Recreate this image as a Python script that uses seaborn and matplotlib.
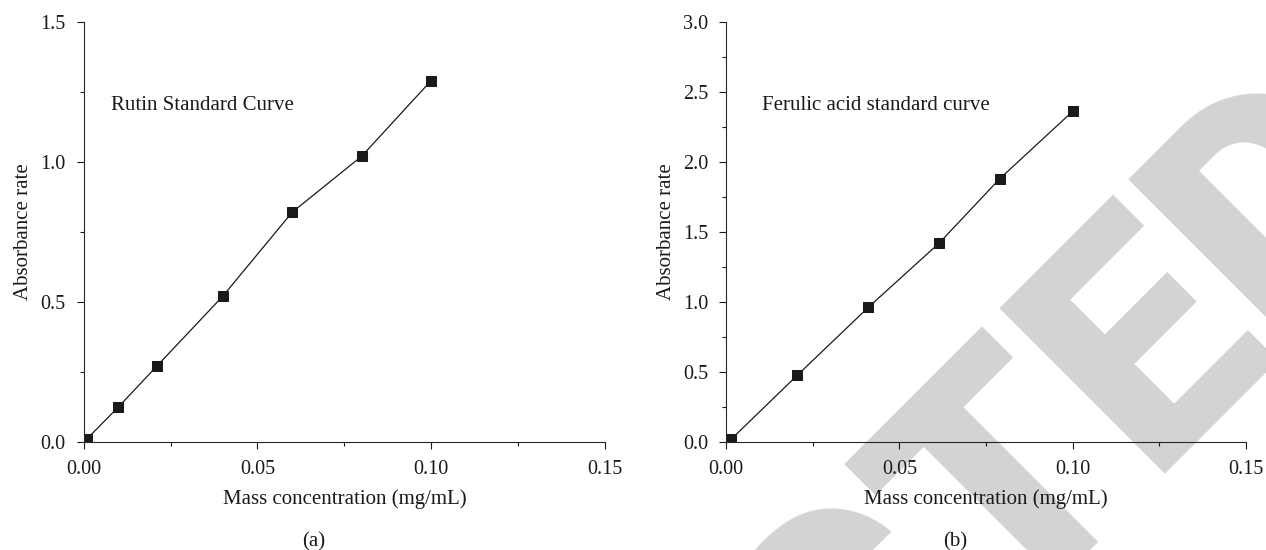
import matplotlib
matplotlib.use('Agg')
import matplotlib.pyplot as plt
import seaborn as sns
from matplotlib.ticker import MultipleLocator, FormatStrFormatter

# data
rutin_conc = [0.001, 0.010, 0.021, 0.040, 0.060, 0.080, 0.100]
rutin_abs = [0.012, 0.125, 0.27, 0.52, 0.82, 1.02, 1.29]

ferulic_conc = [0.0015, 0.0205, 0.041, 0.0615, 0.079, 0.100]
ferulic_abs = [0.02, 0.475, 0.96, 1.42, 1.88, 2.36]

x_ticks = [0.00, 0.05, 0.10, 0.15]
x_ticklabels = ['0.00', '0.05', '0.10', '0.15']

sns.set_style('ticks')
plt.rcParams['font.family'] = ['Liberation Serif', 'DejaVu Serif']
plt.rcParams['axes.linewidth'] = 0.8

fs = 14.5
lfs = 15
ink = '#1a1a1a'

fig = plt.figure(figsize=(12.66, 5.5), dpi=100)
ax1 = fig.add_axes([0.0661, 0.1964, 0.4118, 0.7642])
ax2 = fig.add_axes([0.5735, 0.1964, 0.4107, 0.7642])

# grey watermark behind everything
wm = dict(rotation=45, rotation_mode='anchor', va='baseline', fontsize=236,
          fontweight='black', family='Roboto', color='#d3d3d3', zorder=-5)
fig.text(0.906, 0.138, 'ED', ha='left', **wm)
fig.text(0.906, 0.138, 'RETRACT', ha='right', **wm)


def draw(ax, xs, ys, ymax, label, lx, ly, tag):
    ax.patch.set_alpha(0)
    sns.lineplot(x=xs, y=ys, ax=ax, color=ink, linewidth=0.9, marker='s',
                 markersize=7.5, markeredgecolor=ink, markerfacecolor=ink)
    ax.set_xlim(0, 0.15)
    ax.set_ylim(0, ymax)
    ax.set_xticks(x_ticks)
    ax.set_xticklabels(x_ticklabels)
    ax.xaxis.set_minor_locator(MultipleLocator(0.025))
    ax.yaxis.set_major_locator(MultipleLocator(0.5))
    ax.yaxis.set_minor_locator(MultipleLocator(0.25))
    ax.yaxis.set_major_formatter(FormatStrFormatter('%.1f'))
    ax.tick_params(which='major', length=5, width=0.8, color=ink,
                   labelsize=fs, labelcolor=ink, pad=8)
    ax.tick_params(which='minor', length=3, width=0.8, color=ink)
    sns.despine(ax=ax)
    ax.set_xlabel('Mass concentration (mg/mL)', fontsize=lfs, color=ink, labelpad=7.5)
    ax.set_ylabel('Absorbance rate', fontsize=lfs, color=ink, labelpad=5)
    ax.text(lx, ly, label, fontsize=lfs, color=ink, va='center', ha='left')
    pos = ax.get_position()
    fig.text(pos.x0 + pos.width / 2 - 0.024, 0.015, tag, fontsize=lfs,
             color=ink, ha='center', va='center')


draw(ax1, rutin_conc, rutin_abs, 1.5, 'Rutin Standard Curve', 0.008, 1.2, '(a)')
draw(ax2, ferulic_conc, ferulic_abs, 3.0, 'Ferulic acid standard curve', 0.0104, 2.40, '(b)')

fig.savefig('out.png', dpi=100)
